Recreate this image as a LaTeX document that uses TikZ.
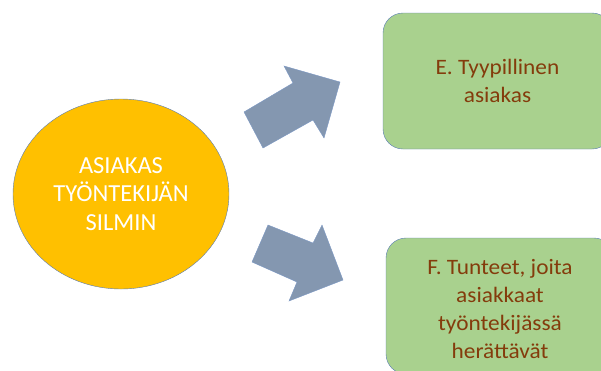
\documentclass[tikz,border=0pt]{standalone}
\usepackage{fontspec}
\setmainfont{Carlito}
\newfontfamily\laatikkofontti[FakeStretch=1.06]{Carlito}
\usetikzlibrary{shapes.geometric}
\definecolor{kulta}{HTML}{FFC000}
\definecolor{vihrea}{HTML}{A9D18E}
\definecolor{reuna}{HTML}{5B7DB5}
\definecolor{nuoli}{HTML}{8497B0}
\definecolor{ruskea}{HTML}{843C0C}
\tikzset{
  laatikko/.style={draw=reuna, fill=vihrea, rounded corners=20pt, align=center,
    text=ruskea, font=\laatikkofontti\fontsize{22}{28}\selectfont},
  nuolilohko/.style={draw=reuna!80, fill=nuoli, line join=miter}
}

\begin{document}
\begin{tikzpicture}[x=1pt, y=-1pt]
    \useasboundingbox (0,0) rectangle (601,370);
    \clip (0,0) rectangle (601,370);
    % Keskimmäinen ympyrä
    \node[ellipse, draw=reuna, fill=kulta, minimum width=216pt, minimum height=190pt,
      inner sep=0pt, align=center, text=white, font=\fontsize{24.5}{28.5}\selectfont]
      (asiakas) at (121,194) {ASIAKAS\\TYÖNTEKIJÄN\\SILMIN};
    % Nuolet
    \draw[nuolilohko] (244,112) -- (293,83) -- (284,66) -- (340,82)
      -- (324,138) -- (313,120) -- (263,148) -- cycle;
    \draw[nuolilohko] (268,225) -- (313,243) -- (322,225) -- (343,280)
      -- (289,301) -- (297,282) -- (252,262) -- cycle;
    % Laatikot
    \node[laatikko, minimum width=229pt, minimum height=136pt]
      (tyypillinen) at (497.5,81) {E. Tyypillinen\\asiakas};
    \node[laatikko, minimum width=228pt, minimum height=136pt]
      (tunteet) at (500,306) {};
    \node[align=center, text=ruskea, font=\laatikkofontti\fontsize{22}{28.3}\selectfont]
      (tunteetteksti) at (500,309) {F. Tunteet, joita\\asiakkaat\\työntekijässä\\herättävät};
  \end{tikzpicture}
\end{document}
